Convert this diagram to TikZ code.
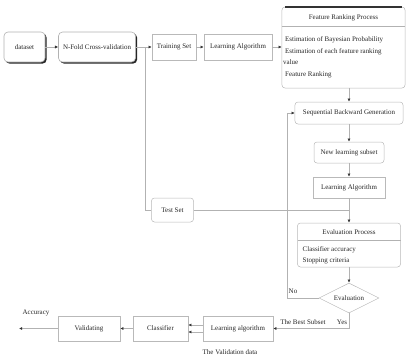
\documentclass[tikz,border=0pt]{standalone}
\usepackage{fontspec}
\setmainfont{Liberation Serif}
\usetikzlibrary{arrows.meta,shapes.geometric,shadows}
\begin{document}
\begin{tikzpicture}[x=1bp,y=-1bp,
  every node/.style={font=\fontsize{7}{8}\selectfont, text=black!85},
  box/.style={draw=gray!55, line width=0.5bp, inner sep=1bp},
  rbox/.style={box, rounded corners=3bp},
  heavy/.style={draw=gray!60, fill=white, rounded corners=4bp, line width=0.6bp,
    drop shadow={shadow xshift=1.6bp, shadow yshift=-1.6bp, fill=black!85, opacity=1}},
  line/.style={draw=gray!60, line width=0.5bp},
  arr/.style={line, -{Latex[length=3.2bp,width=3bp,color=black!80]}},
  lbl/.style={inner sep=0.5bp},
]
\useasboundingbox (0,0) rectangle (411,363);

% top row
\node[heavy, minimum width=41bp, minimum height=30bp] (ds) at (24.5,47) {dataset};
\node[heavy, minimum width=77bp, minimum height=30bp] (nf) at (97,47) {N-Fold Cross-validation};
\node[box, minimum width=44bp, minimum height=26bp] (tr) at (174,47) {Training Set};
\node[box, minimum width=68bp, minimum height=26bp] (la1) at (238,47) {Learning Algorithm};

% feature ranking process
\node[rbox, minimum width=123bp, minimum height=81bp] (frp) at (343.5,47.5) {};
\draw[black!80, line width=1.3bp] (285,7) -- (402,7);
\node[lbl] (frpt) at (343.5,17.5) {Feature Ranking Process};
\draw[line] (282,26) -- (405,26);
\node[lbl, anchor=west] (f1) at (284.5,40) {Estimation of Bayesian Probability};
\node[lbl, anchor=west] (f2) at (284.5,51.5) {Estimation of each feature ranking};
\node[lbl, anchor=west] (f3) at (282.5,62) {value};
\node[lbl, anchor=west] (f4) at (284.5,74.5) {Feature Ranking};

% central column
\node[rbox, minimum width=108bp, minimum height=22bp] (sbg) at (349,113) {Sequential Backward Generation};
\node[rbox, minimum width=70bp, minimum height=21bp] (nls) at (349,152.5) {New learning subset};
\node[box, minimum width=72bp, minimum height=21bp] (la2) at (349,187.5) {Learning Algorithm};
\node[rbox, minimum width=103bp, minimum height=44bp] (ep) at (349,245) {};
\node[lbl] (ept) at (349,232.5) {Evaluation Process};
\draw[line] (297.5,240) -- (400.5,240);
\node[lbl, anchor=west] (e1) at (302,250) {Classifier accuracy};
\node[lbl, anchor=west] (e2) at (302,261) {Stopping criteria};
\node[diamond, draw=gray!55, line width=0.5bp, aspect=2, minimum width=60bp, minimum height=30bp, inner sep=0pt] (ev) at (349,298) {Evaluation};

% test set
\node[rbox, minimum width=42bp, minimum height=24bp] (ts) at (172.5,210) {Test Set};

% bottom row
\node[box, minimum width=70bp, minimum height=25bp] (la3) at (238,328.5) {Learning algorithm};
\node[box, minimum width=55bp, minimum height=25bp] (cl) at (160.5,328.5) {Classifier};
\node[box, minimum width=62bp, minimum height=25bp] (va) at (89,328.5) {Validating};
\node[lbl] (vd) at (230,352) {The Validation data};
\node[lbl] (acclbl) at (36,313) {Accuracy};
\coordinate (acc) at (19,328.5);

% connectors
\draw[arr] (ds) -- (nf);
\draw[arr] (nf) -- (tr);
\draw[arr] (tr) -- (la1);
\draw[arr] (la1.east) -- (la1.east -| frp.west);
\coordinate (br) at (145,47);
\draw[line] (br) |- (ts.west);
\draw[arr] (frp.south -| sbg.north) -- (sbg.north);
\draw[arr] (sbg) -- (nls);
\draw[arr] (nls) -- (la2);
\draw[arr] (la2) -- (ep);
\draw[line] (ts.east) -- (ts.east -| la2.south);
\draw[arr] (ep) -- (ev);
\coordinate (nocorner) at (287,298);
\draw[arr] (ev.west) -- (nocorner) |- (sbg.west);
\node[lbl] (nolbl) at (293,291) {No};
\draw[arr] (ev.south) |- (la3.east);
\node[lbl] (yeslbl) at (342,322) {Yes};
\node[lbl] (bslbl) at (303,322) {The Best Subset};
\draw[arr] ([yshift=3.5bp]la3.west) -- ([yshift=3.5bp]cl.east);
\draw[arr] ([yshift=-3.5bp]la3.west) -- ([yshift=-3.5bp]cl.east);
\draw[arr] (cl) -- (va);
\draw[arr] (va) -- (acc);
\end{tikzpicture}
\end{document}
